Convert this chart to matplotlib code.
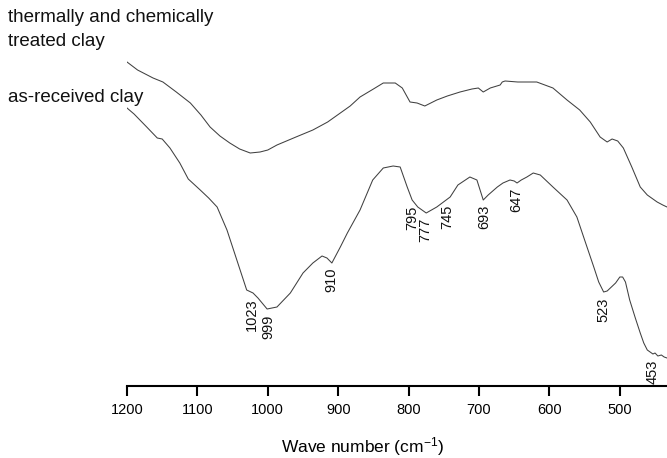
import matplotlib
matplotlib.use("Agg")
import matplotlib.pyplot as plt
import numpy as np

plt.rcParams['font.family'] = ['Liberation Sans', 'DejaVu Sans']
plt.rcParams['mathtext.fontset'] = 'custom'
plt.rcParams['mathtext.rm'] = 'Liberation Sans'
plt.rcParams['mathtext.it'] = 'Liberation Sans'

# wave numbers (cm-1) and transmittance (arbitrary units)
wn_treated = [1200, 1185, 1163, 1149, 1130, 1110, 1095, 1082, 1068, 1054, 1040, 1025,
              1011, 1000, 987, 960, 936, 915, 897, 883, 869, 850, 836, 819, 809, 798,
              788, 777, 760, 745, 727, 710, 701, 694, 689, 684, 670, 667, 663, 645,
              632, 618, 595, 575, 557, 542, 528, 518, 511, 503, 495, 483, 471, 461,
              447, 439, 433]
t_treated = [324, 316, 308, 304, 294, 283, 271, 259, 250, 243, 237, 233,
             234, 236, 241, 249, 256, 264, 273, 280, 289, 297, 303, 303, 298, 284,
             283, 280, 286, 290, 294, 297, 298, 294, 296, 298, 301, 304, 305, 304,
             304, 304, 298, 286, 276, 264, 249, 244, 247, 245, 238, 219, 199, 191,
             184, 181, 179]

wn_raw = [1200, 1190, 1172, 1157, 1150, 1139, 1125, 1113, 1096, 1084, 1072, 1058,
          1044, 1030, 1021, 1014, 1001, 987, 968, 950, 936, 923, 916, 909, 897,
          887, 869, 851, 836, 822, 812, 802, 795, 787, 775, 760, 741, 730, 713,
          703, 694, 687, 674, 666, 656, 650, 646, 640, 632, 623, 613, 595, 575,
          561, 550, 537, 530, 523, 518, 512, 506, 500, 496, 492, 486, 478, 471,
          466, 461, 457, 453, 450, 446, 441, 437, 433]
t_raw = [278, 272, 259, 248, 247, 238, 223, 207, 196, 188, 179, 156,
         126, 96, 93, 88, 77, 79, 93, 113, 123, 130, 128, 123, 139,
         153, 176, 206, 218, 220, 219, 199, 186, 179, 173, 179, 189, 201, 209,
         206, 186, 191, 199, 203, 206, 205, 203, 206, 209, 213, 211, 199, 186,
         169, 146, 119, 104, 94, 95, 99, 103, 109, 109, 104, 86, 68, 53,
         43, 36, 34, 32, 33, 30, 31, 29, 28]

peaks = [1023, 999, 910, 795, 777, 745, 693, 647, 523, 453]

fig = plt.figure(figsize=(6.67, 4.58), dpi=100)
ax = fig.add_axes([127 / 667, 72 / 458, 540 / 667, 386 / 458])

ax.plot(wn_treated, t_treated, color='#404040', linewidth=0.75)
ax.plot(wn_raw, t_raw, color='#404040', linewidth=0.75)

ax.set_xlim(1200, 433)
ax.set_ylim(0, 386)

# peak labels just under the minima of the as-received curve
xs = np.array(wn_raw[::-1])
ys = np.array(t_raw[::-1])
for p in peaks:
    yp = np.interp(p, xs, ys)
    ax.annotate(str(p), xy=(p, yp), xytext=(0, -4), textcoords='offset points',
                rotation=90, ha='center', va='top', fontsize=10.5, color='#111111')

for s in ['top', 'right', 'left']:
    ax.spines[s].set_visible(False)
ax.spines['bottom'].set_linewidth(1.5)
ax.set_yticks([])
ax.set_xticks([1200, 1100, 1000, 900, 800, 700, 600, 500])
ax.tick_params(axis='x', direction='out', length=7, width=1.5, labelsize=10.5, pad=5)

ax.set_xlabel('Wave number (cm$^{-1}$)', fontsize=12.5, va='center')
ax.xaxis.set_label_coords((363 - 127) / 540, -(447 - 386) / 386)

fig.text(8 / 667, 1 - 17 / 458, 'thermally and chemically', fontsize=13.5, va='center', ha='left', color='#111111')
fig.text(8 / 667, 1 - 42 / 458, 'treated clay', fontsize=13.5, va='center', ha='left', color='#111111')
fig.text(8 / 667, 1 - 97 / 458, 'as-received clay', fontsize=13.5, va='center', ha='left', color='#111111')

fig.savefig('out.png', dpi=100)
